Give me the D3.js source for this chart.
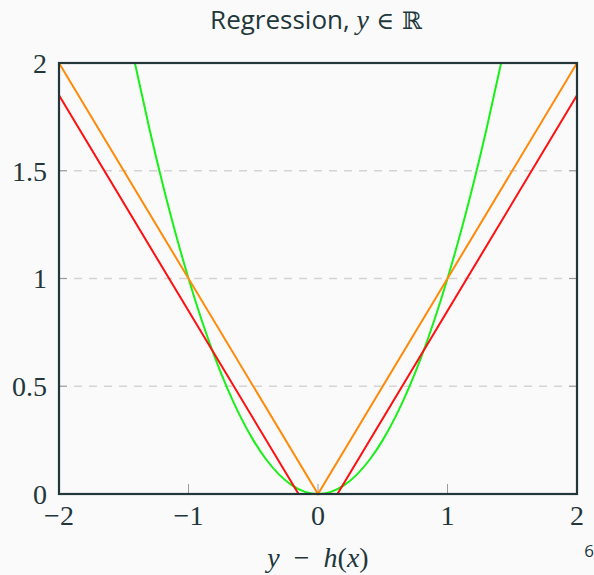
<!DOCTYPE html>
<html>
<head>
<meta charset="utf-8">
<script src="https://cdn.jsdelivr.net/npm/d3@7"></script>
<style>
  body { margin: 0; background: #fafafa; }
  svg { display: block; }
</style>
</head>
<body>
<svg width="594" height="575"></svg>
<script>
// values
const xTicks = [-2, -1, 0, 1, 2];
const yTicks = [0, 0.5, 1, 1.5, 2];
const yTickLabels = ['0', '0.5', '1', '1.5', '2'];
const gridValues = [0.5, 1, 1.5];

// squared loss (green)
const squaredX = [-1.414, -1.3, -1.2, -1.1, -1, -0.9, -0.8, -0.7, -0.6, -0.5, -0.4, -0.3, -0.2, -0.1, 0,
                  0.1, 0.2, 0.3, 0.4, 0.5, 0.6, 0.7, 0.8, 0.9, 1, 1.1, 1.2, 1.3, 1.414];
const squaredY = [2, 1.69, 1.44, 1.21, 1, 0.81, 0.64, 0.49, 0.36, 0.25, 0.16, 0.09, 0.04, 0.01, 0,
                  0.01, 0.04, 0.09, 0.16, 0.25, 0.36, 0.49, 0.64, 0.81, 1, 1.21, 1.44, 1.69, 2];
// absolute loss (orange)
const absX = [-2, 0, 2];
const absY = [2, 0, 2];
// epsilon-insensitive loss (red)
const epsX = [-2, -0.15, 0.15, 2];
const epsY = [1.85, 0, 0, 1.85];

const ink = '#23373b';
const svg = d3.select('svg');
const margin = { left: 59, right: 17, top: 63, bottom: 81 };
const W = 594, H = 575;

const x = d3.scaleLinear().domain([-2, 2]).range([margin.left, W - margin.right]);
const y = d3.scaleLinear().domain([0, 2]).range([H - margin.bottom, margin.top]);

// title
const title = svg.append('text')
  .attr('x', 316).attr('y', 29)
  .attr('text-anchor', 'middle')
  .attr('fill', ink);
title.append('tspan')
  .style('font-family', '"Open Sans", sans-serif')
  .style('font-size', '26px')
  .style('font-weight', 500)
  .text('Regression, ');
title.append('tspan')
  .style('font-family', '"Liberation Serif", serif')
  .style('font-style', 'italic')
  .style('font-size', '28px')
  .text('y');
title.append('tspan')
  .style('font-family', '"DejaVu Serif", serif')
  .style('font-size', '24px')
  .text(' ∈ ℝ');

// grid
svg.append('g').selectAll('line').data(gridValues).join('line')
  .attr('x1', x(-2)).attr('x2', x(2))
  .attr('y1', d => y(d)).attr('y2', d => y(d))
  .attr('stroke', '#d4d4d4').attr('stroke-width', 1.5)
  .attr('stroke-dasharray', '8,7');

// small inner ticks
const tickG = svg.append('g').attr('stroke', '#9a9a9a').attr('stroke-width', 1);
tickG.selectAll('.tl').data(gridValues).join('line')
  .attr('x1', x(-2)).attr('x2', x(-2) + 8)
  .attr('y1', d => y(d)).attr('y2', d => y(d));
tickG.selectAll('.tr').data(gridValues).join('line')
  .attr('x1', x(2)).attr('x2', x(2) - 8)
  .attr('y1', d => y(d)).attr('y2', d => y(d));
tickG.selectAll('.tb').data([-1, 0, 1]).join('line')
  .attr('x1', d => x(d)).attr('x2', d => x(d))
  .attr('y1', y(0)).attr('y2', y(0) - 10);

// curves
const line = d3.line().x(d => x(d[0])).y(d => y(d[1]));
const series = [
  { xs: squaredX, ys: squaredY, color: '#18f018', curve: d3.curveNatural },
  { xs: epsX, ys: epsY, color: '#ff0f0f', curve: d3.curveLinear },
  { xs: absX, ys: absY, color: '#ff8a0a', curve: d3.curveLinear }
];
series.forEach(s => {
  svg.append('path')
    .datum(d3.zip(s.xs, s.ys))
    .attr('fill', 'none')
    .attr('stroke', s.color)
    .attr('stroke-width', 2)
    .attr('d', line.curve(s.curve));
});

// frame
svg.append('rect')
  .attr('x', x(-2)).attr('y', y(2))
  .attr('width', x(2) - x(-2)).attr('height', y(0) - y(2))
  .attr('fill', 'none').attr('stroke', ink).attr('stroke-width', 2.2);

// tick labels
const tickFont = '"Liberation Serif", "DejaVu Serif", serif';
svg.append('g').selectAll('text').data(yTicks).join('text')
  .attr('x', x(-2) - 12).attr('y', d => y(d)).attr('dy', '0.35em')
  .attr('text-anchor', 'end')
  .style('font-family', tickFont).style('font-size', '28px')
  .attr('fill', ink)
  .text((d, i) => yTickLabels[i]);

svg.append('g').selectAll('text').data(xTicks).join('text')
  .attr('x', d => x(d)).attr('y', y(0) + 31)
  .attr('text-anchor', 'middle')
  .style('font-family', tickFont).style('font-size', '28px')
  .attr('fill', ink)
  .text(d => d < 0 ? '\u2212' + Math.abs(d) : d);

// axis label
const xl = svg.append('text')
  .attr('x', x(0)).attr('y', 567)
  .attr('text-anchor', 'middle')
  .style('font-family', tickFont).style('font-size', '28px')
  .style('white-space', 'pre')
  .attr('fill', ink);
xl.append('tspan').style('font-style', 'italic').text('y');
xl.append('tspan').text('  \u2212  ');
xl.append('tspan').style('font-style', 'italic').text('h');
xl.append('tspan').text('(');
xl.append('tspan').style('font-style', 'italic').text('x');
xl.append('tspan').text(')');

// page number
svg.append('text')
  .attr('x', 589).attr('y', 557)
  .attr('text-anchor', 'middle')
  .style('font-family', '"Open Sans", sans-serif').style('font-size', '17px')
  .attr('fill', ink)
  .text('6');
</script>
</body>
</html>
